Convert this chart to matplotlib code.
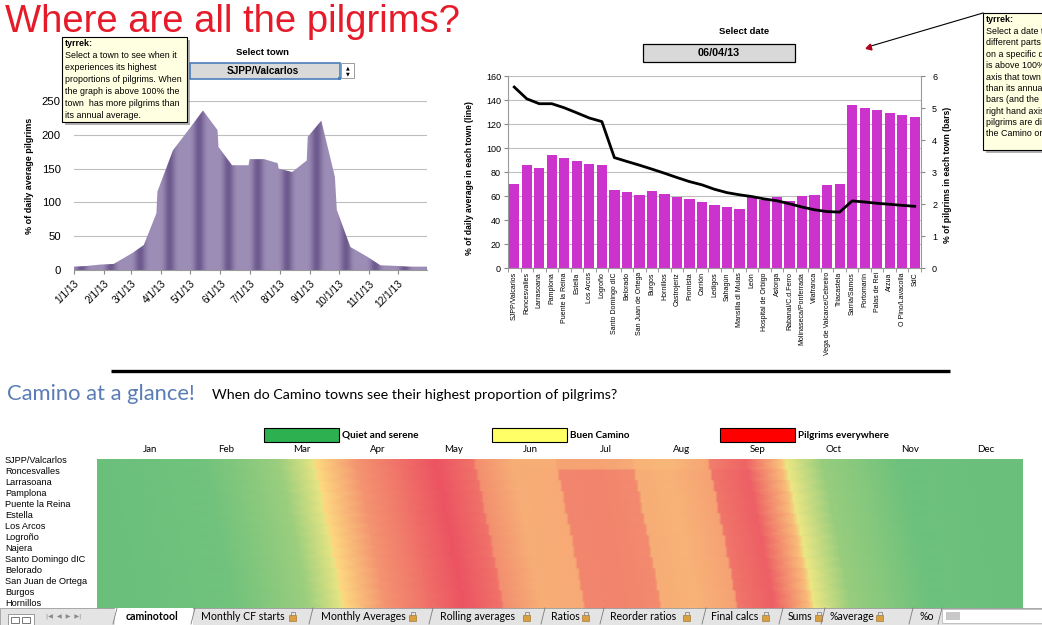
import numpy as np
import pandas as pd
import matplotlib
matplotlib.use("Agg")
import matplotlib.pyplot as plt
import matplotlib.dates as mdates
from matplotlib.colors import LinearSegmentedColormap, TwoSlopeNorm, to_rgb
from matplotlib.patches import Rectangle

plt.rcParams['font.family'] = ['Liberation Sans', 'DejaVu Sans']

W, H = 1042, 625

# left chart: SJPP/Valcarlos, % of daily average pilgrims through 2013
area_dates = ["2013-01-01", "2013-01-14", "2013-01-28", "2013-02-11", "2013-03-02",
              "2013-03-14", "2013-03-27", "2013-03-28", "2013-04-13", "2013-04-30",
              "2013-05-14", "2013-05-29", "2013-05-30", "2013-06-13", "2013-06-30",
              "2013-07-01", "2013-07-16", "2013-07-30", "2013-07-31", "2013-08-14",
              "2013-08-29", "2013-08-30", "2013-09-13", "2013-09-27", "2013-09-29",
              "2013-10-13", "2013-10-30", "2013-11-13", "2013-11-30", "2013-12-14",
              "2013-12-31"]
area_values = [5, 6, 8, 9, 25, 37, 84, 116, 177, 209, 236, 207, 182, 155, 155,
               164, 164, 158, 150, 145, 162, 197, 221, 138, 89, 34, 20, 7, 6, 5, 5]

# right chart: towns on 06/04/13
towns = ["SJPP/Valcarlos", "Roncesvalles", "Larrasoana", "Pamplona", "Puente la Reina",
         "Estella", "Los Arcos", "Logroño", "Santo Domingo dIC", "Belorado",
         "San Juan de Ortega", "Burgos", "Hornillos", "Castrojeriz", "Fromista",
         "Carrión", "Ledigos", "Sahagún", "Mansilla dl Mulas", "León",
         "Hospital de Orbigo", "Astorga", "Rabanal/C.d.Ferro", "Molinaseca/Ponferrada",
         "Vilafranca", "Vega de Valcarce/Cebreiro", "Triacastela", "Sarria/Samos",
         "Portomarín", "Palas de Rei", "Arzua", "O Pino/Lavacolla", "SdC"]
bar_values = [2.62, 3.21, 3.12, 3.53, 3.45, 3.35, 3.25, 3.21, 2.44, 2.37, 2.28,
              2.41, 2.32, 2.22, 2.16, 2.05, 1.97, 1.91, 1.84, 2.22, 2.12, 2.22,
              2.09, 2.25, 2.28, 2.59, 2.62, 5.08, 5.01, 4.94, 4.85, 4.79, 4.71]
line_values = [150.8, 141, 136.9, 136.9, 133.5, 129.3, 125, 122, 92, 88.8, 85.7,
               82.4, 79, 75.4, 72, 69.3, 65.6, 62.8, 61, 59.5, 57.5, 56, 53.5,
               50.8, 48.5, 47, 46.6, 55.9, 55, 53.9, 53.1, 52.2, 51.4]

# heatmap: first row = SJPP profile above, other towns share this profile (same dates)
heat_towns = ["SJPP/Valcarlos", "Roncesvalles", "Larrasoana", "Pamplona",
              "Puente la Reina", "Estella", "Los Arcos", "Logroño", "Najera",
              "Santo Domingo dIC", "Belorado", "San Juan de Ortega", "Burgos", "Hornillos"]
heat_rest_values = [5, 6, 8, 9, 25, 37, 84, 116, 177, 209, 236, 207, 182, 155, 158,
                    190, 192, 186, 155, 150, 165, 205, 225, 140, 89, 34, 20, 7, 6, 5, 5]
heat_shift = [0, 1, 2, 3, 3.5, 4.5, 5.5, 6.5, 7, 8, 9, 9.5, 10.5, 11]
heat_months = ["Jan", "Feb", "Mar", "Apr", "May", "Jun", "Jul", "Aug", "Sep", "Oct", "Nov", "Dec"]

sheet_tabs = ["caminotool", "Monthly CF starts", "Monthly Averages", "Rolling averages",
              "Ratios", "Reorder ratios", "Final calcs", "Sums", "%average", "%o"]


def box(x0, y0, x1, y1):
    return [x0 / W, 1 - y1 / H, (x1 - x0) / W, (y1 - y0) / H]


fig = plt.figure(figsize=(W / 100, H / 100), dpi=100)

# ---------------- left area chart
ax1 = fig.add_axes(box(74, 101, 427, 270))
d = pd.to_datetime(area_dates)
area = ax1.fill_between(d, area_values, 0, facecolor='none', edgecolor='none')
t0 = mdates.date2num(pd.Timestamp("2013-01-01"))
t1 = mdates.date2num(pd.Timestamp("2013-12-31"))
day = np.arange(365)
shade = (0.5 + 0.5 * np.cos(2 * np.pi * (day - 68) / 30.4)) ** 3
light, dark = np.array(to_rgb('#9D8EB7')), np.array(to_rgb('#6E5A8E'))
stripes = light * (1 - shade[:, None]) + dark * shade[:, None]
img = ax1.imshow(stripes[None], extent=[t0, t1, 0, 250], aspect='auto',
                 origin='lower', interpolation='bilinear', zorder=2)
img.set_clip_path(area.get_paths()[0], ax1.transData)
ax1.set_xlim(t0, t1)
ax1.set_ylim(0, 250)
ax1.set_yticks(range(0, 251, 50))
ax1.yaxis.grid(True, color='#BEBEBE', lw=0.8)
ax1.set_axisbelow(True)
month_starts = pd.date_range("2013-01-01", periods=12, freq="MS")
ax1.set_xticks(month_starts)
ax1.set_xticklabels([f"{m.month}/1/13" for m in month_starts], rotation=45,
                    ha='right', rotation_mode='anchor', fontsize=7.3)
ax1.tick_params(axis='y', length=0, pad=9.5, labelsize=8.2)
ax1.tick_params(axis='x', length=3, color='#888888', pad=3)
for s in ['top', 'right', 'left']:
    ax1.spines[s].set_visible(False)
ax1.spines['bottom'].set_color('#9A9A9A')

# ---------------- right bar + line chart
axb = fig.add_axes(box(508, 76, 921, 268))
x = np.arange(len(towns))
for v in range(20, 161, 20):
    axb.axhline(v * 6 / 160, color='#BEBEBE', lw=0.8, zorder=0)
axb.bar(x, bar_values, width=0.82, color='#CC33CC', zorder=2)
axl = axb.twinx()
axb.yaxis.tick_right()
axl.yaxis.tick_left()
axl.plot(x, line_values, color='black', lw=2)
axb.set_xlim(-0.5, len(towns) - 0.5)
axb.set_ylim(0, 6)
axl.set_ylim(0, 160)
axb.set_yticks(range(0, 7))
axl.set_yticks(range(0, 161, 20))
axb.set_xticks(x)
axb.set_xticklabels(towns, rotation=90, fontsize=5)
axb.set_xticks(np.arange(-0.5, len(towns)), minor=True)
axb.tick_params(axis='x', which='major', length=0, pad=3)
axb.tick_params(axis='x', which='minor', length=3, color='#888888')
axb.tick_params(axis='y', length=3, color='#888888', pad=5, labelsize=6.5)
axl.tick_params(axis='y', length=3, color='#888888', pad=2, labelsize=6.5)
for s in ['top', 'left']:
    axb.spines[s].set_visible(False)
for s in ['top', 'right', 'bottom']:
    axl.spines[s].set_visible(False)
for a, s in [(axb, 'right'), (axb, 'bottom'), (axl, 'left')]:
    a.spines[s].set_color('#9A9A9A')

# ---------------- heatmap
axh = fig.add_axes(box(97, 459, 1023, 610.5))
cmap = LinearSegmentedColormap.from_list('excel3', ['#63BE7B', '#FFEB84', '#EC5362'])
norm = TwoSlopeNorm(vmin=0, vcenter=100, vmax=236)
days = (d - d[0]).days.to_numpy().astype(float)
for r, shift in enumerate(heat_shift):
    vals = area_values if r == 0 else heat_rest_values
    xs = np.concatenate([[0.0], days + shift])
    cs = np.concatenate([[vals[0]], vals]).astype(float)
    axh.pcolormesh(np.vstack([xs, xs]), np.array([[r] * len(xs), [r + 1] * len(xs)]),
                   np.vstack([cs, cs]), shading='gouraud', cmap=cmap, norm=norm,
                   antialiased=False)
axh.set_xlim(0, 364)
axh.set_ylim(151.5 / 11, 0)
axh.axis('off')

# ---------------- sheet overlay (pixel coordinates)
ov = fig.add_axes([0, 0, 1, 1])
ov.set_xlim(0, W)
ov.set_ylim(H, 0)
ov.axis('off')
ov.set_zorder(10)

ov.text(5, 32.5, "Where are all the pilgrims?", color='#E51B2A', fontsize=27.5,
        va='baseline', ha='left')

# axis titles
ov.text(29, 176, "% of daily average pilgrims", rotation=90, ha='center', va='center',
        fontsize=6.5, fontweight='bold')
ov.text(470, 178, "% of daily average in each town (line)", rotation=90, ha='center',
        va='center', fontsize=6.2, fontweight='bold')
ov.text(948, 175, "% of pilgrims in each town (bars)", rotation=90, ha='center',
        va='center', fontsize=6.2, fontweight='bold')

# select town control
ov.text(263, 52.5, "Select town", ha='center', va='center', fontsize=6.8, fontweight='bold')
ov.add_patch(Rectangle((190, 62.5), 150, 16, facecolor='#D9D9D9', edgecolor='#4A7EBB', lw=1.2))
ov.add_patch(Rectangle((338, 77), 3, 3, facecolor='#4A7EBB', edgecolor='none'))
ov.text(263, 70.5, "SJPP/Valcarlos", ha='center', va='center', fontsize=7.2, fontweight='bold')
ov.add_patch(Rectangle((341, 63), 13, 15, facecolor='white', edgecolor='#8C8C8C', lw=0.6))
ov.text(347.5, 67.5, "▲", ha='center', va='center', fontsize=3.5, family='DejaVu Sans')
ov.text(347.5, 73.5, "▼", ha='center', va='center', fontsize=3.5, family='DejaVu Sans')

# select date control
ov.text(744, 31, "Select date", ha='center', va='center', fontsize=6.8, fontweight='bold')
ov.add_patch(Rectangle((643, 44), 152, 18, facecolor='#D9D9D9', edgecolor='black', lw=0.9))
ov.text(719, 53, "06/04/13", ha='center', va='center', fontsize=7.8, fontweight='bold')


def tooltip(x0, y0, x1, y1, lines, y_first, step):
    ov.add_patch(Rectangle((x0 + 3, y0 + 3), x1 - x0, y1 - y0, facecolor='#6F6F6F',
                           alpha=0.55, edgecolor='none'))
    ov.add_patch(Rectangle((x0, y0), x1 - x0, y1 - y0, facecolor='#FFFFE1',
                           edgecolor='black', lw=0.8))
    for i, s in enumerate(lines):
        ov.text(x0 + 3, y_first + i * step, s, fontsize=6.4, va='center',
                fontweight='bold' if i == 0 else 'normal')


tooltip(62, 37, 187, 122,
        ["tyrrek:", "Select a town to see when it", "experiences its highest",
         "proportions of pilgrims. When", "the graph is above 100% the",
         "town  has more pilgrims than", "its annual average."], 43, 12)

ov.plot([983, 871], [13, 46], color='black', lw=0.8)
ov.plot(869, 46.5, marker=(3, 0, 106), color='#B00020', ms=5)
tooltip(983, 13, 1060, 150,
        ["tyrrek:", "Select a date to see", "different parts of the", "on a specific date.",
         "is above 100% on the", "axis that town has more", "than its annual average.",
         "bars (and the", "right hand axis) show", "pilgrims are distributed",
         "the Camino on that date."], 20, 11.4)

# divider and section titles
ov.plot([111, 950], [371, 371], color='black', lw=2.4, solid_capstyle='butt')
ov.text(7, 393.5, "Camino at a glance!", color='#5A7DB5', fontsize=15.8, family='Lato',
        ha='left', va='center')
ov.text(212, 395, "When do Camino towns see their highest proportion of pilgrims?",
        fontsize=10.3, family='Lato', ha='left', va='center')

# heatmap legend
for x0, col, label in [(264, '#2DB04F', "Quiet and serene"),
                       (492, '#FFFF66', "Buen Camino"),
                       (720, '#FF0000', "Pilgrims everywhere")]:
    ov.add_patch(Rectangle((x0, 428), 75, 14, facecolor=col, edgecolor='black', lw=0.8))
    ov.text(x0 + 78, 435, label, fontsize=7.2, family='Lato', fontweight='bold', va='center')

for i, m in enumerate(heat_months):
    ov.text(150 + 76 * i, 449.5, m, fontsize=7, family='Lato', ha='center', va='center')
for i, t in enumerate(heat_towns):
    ov.text(5, 460.5 + 11 * i, t, fontsize=6.6, ha='left', va='center')

# sheet tab bar
ov.add_patch(Rectangle((0, 607.5), W, 18, facecolor='#E4E4E4', edgecolor='#9C9C9C', lw=0.6))
ov.add_patch(Rectangle((8, 614), 26, 11, facecolor='white', edgecolor='#8C8C8C', lw=0.6))
ov.add_patch(Rectangle((11, 617), 8, 6, facecolor='none', edgecolor='#606060', lw=0.6))
ov.add_patch(Rectangle((22, 617), 8, 6, facecolor='none', edgecolor='#606060', lw=0.6))
ov.text(46, 616.5, "|◀  ◀  ▶  ▶|", fontsize=4.5, color='#8A8A8A', va='center',
        family='DejaVu Sans')
ov.add_patch(Rectangle((115, 607.5), 78, 18, facecolor='white', edgecolor='none'))
tab_text_x = [126, 201, 321, 440, 551, 610, 711, 788, 829, 920]
tab_lock_x = [None, 292, 412, 526, 585, 686, 765, 818, 879, None]
tab_edges = [115, 193, 311, 431, 543, 602, 704, 781, 823, 911, 940]
for name, tx, lx in zip(sheet_tabs, tab_text_x, tab_lock_x):
    ov.text(tx, 616.5, name, fontsize=7.6, family='Lato', va='center',
            fontweight='bold' if name == "caminotool" else 'normal')
    if lx is not None:
        ov.add_patch(Rectangle((lx - 3, 614.5), 7, 6, facecolor='#D8A040', edgecolor='#9A6A20', lw=0.4))
        ov.plot([lx - 1.5, lx - 1.5, lx + 2.5, lx + 2.5], [614.5, 611.5, 611.5, 614.5],
                color='#8A8A8A', lw=0.6)
for e in tab_edges:
    ov.plot([e + 2, e - 2], [608, 624], color='#7A7A7A', lw=0.6)
ov.add_patch(Rectangle((942, 609), 100, 14, facecolor='white', edgecolor='#B0B0B0', lw=0.5))
ov.add_patch(Rectangle((946, 612), 14, 8, facecolor='#C8C8C8', edgecolor='none'))

fig.savefig("out.png", dpi=100)
